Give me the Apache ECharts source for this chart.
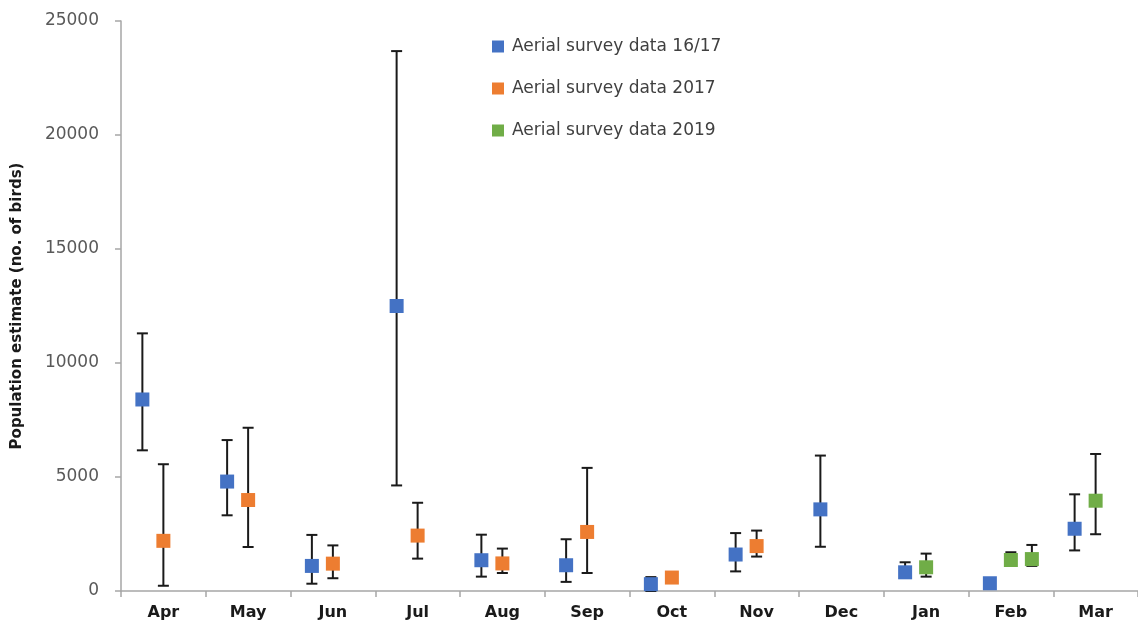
<!DOCTYPE html>
<html>
<head>
<meta charset="utf-8">
<script src="https://cdn.jsdelivr.net/npm/echarts@6/dist/echarts.min.js"></script>
<style>html,body{margin:0;padding:0;background:#fff}#c{width:1138px;height:626px}</style>
</head>
<body>
<div id="c"></div>
<script>
const categories = ['Apr','May','Jun','Jul','Aug','Sep','Oct','Nov','Dec','Jan','Feb','Mar'];
const yTicks = [0, 5000, 10000, 15000, 20000, 25000];

const s1617 = [8400, 4800, 1100, 12500, 1350, 1130, 300, 1600, 3580, 820, 340, 2730];
const s1617Low = [6170, 3320, 320, 4630, 630, 400, 0, 860, 1940, 600, null, 1780];
const s1617High = [11300, 6620, 2460, 23680, 2470, 2270, 610, 2540, 5940, 1260, null, 4240];

const s2017 = [2200, 3990, 1200, 2430, 1210, 2590, 590, 1970, null, null, null, null];
const s2017Low = [230, 1930, 560, 1420, 790, 790, null, 1510, null, null, null, null];
const s2017High = [5560, 7160, 2000, 3870, 1860, 5400, null, 2650, null, null, null, null];

const s2019 = [null, null, null, null, null, null, null, null, null, 1040, 1360, 3960];
const s2019Low = [null, null, null, null, null, null, null, null, null, 630, 1200, 2490];
const s2019High = [null, null, null, null, null, null, null, null, null, 1640, 1700, 6010];

// second 2019 survey in February
const s2019b = [null, null, null, null, null, null, null, null, null, null, 1400, null];
const s2019bLow = [null, null, null, null, null, null, null, null, null, null, 1100, null];
const s2019bHigh = [null, null, null, null, null, null, null, null, null, null, 2020, null];

const names = ['Aerial survey data 16/17', 'Aerial survey data 2017', 'Aerial survey data 2019'];
const colors = ['#4472C4', '#ED7D31', '#70AD47'];

function errData(low, high) {
  const out = [];
  categories.forEach((c, i) => {
    if (low[i] != null && high[i] != null) out.push([i, low[i], high[i]]);
  });
  return out;
}
function ptData(vals) {
  return vals.map((v, i) => v == null ? [i, null] : [i, v]);
}
function errSeries(low, high, dx) {
  return {
    type: 'custom',
    silent: true,
    z: 1,
    renderItem: function (params, api) {
      const x = api.value(0);
      const lo = api.coord([x, api.value(1)]);
      const hi = api.coord([x, api.value(2)]);
      const cx = lo[0] + dx, hw = 5.5;
      const st = { stroke: '#1a1a1a', lineWidth: 2 };
      return {
        type: 'group',
        children: [
          { type: 'line', shape: { x1: cx, y1: lo[1], x2: cx, y2: hi[1] }, style: st },
          { type: 'line', shape: { x1: cx - hw, y1: lo[1], x2: cx + hw, y2: lo[1] }, style: st },
          { type: 'line', shape: { x1: cx - hw, y1: hi[1], x2: cx + hw, y2: hi[1] }, style: st }
        ]
      };
    },
    encode: { x: 0, y: [1, 2] },
    data: errData(low, high)
  };
}
function ptSeries(name, vals, color, dx) {
  return {
    name: name,
    type: 'scatter',
    symbol: 'rect',
    symbolSize: 14,
    symbolOffset: [dx, 0],
    z: 3,
    itemStyle: { color: color, opacity: 1 },
    data: ptData(vals)
  };
}

const chart = echarts.init(document.getElementById('c'), null, { renderer: 'canvas' });
chart.setOption({
  animation: false,
  backgroundColor: '#fff',
  textStyle: { fontFamily: 'DejaVu Sans' },
  grid: { left: 121, right: -9, top: 21, bottom: 35, containLabel: false },
  legend: {
    orient: 'vertical',
    left: 487,
    top: 33,
    itemGap: 25,
    itemWidth: 12,
    itemHeight: 12,
    icon: 'rect',
    data: names,
    textStyle: { fontSize: 17, color: '#404040', fontFamily: 'DejaVu Sans', padding: [0, 0, 0, 3] }
  },
  xAxis: {
    type: 'category',
    data: categories,
    boundaryGap: true,
    axisLine: { lineStyle: { color: '#A6A6A6', width: 1.5 } },
    axisTick: { show: true, interval: 0, length: 6, lineStyle: { color: '#A6A6A6', width: 1.5 } },
    axisLabel: { interval: 0, fontSize: 16, fontWeight: 'bold', color: '#1a1a1a', margin: 14 }
  },
  yAxis: {
    type: 'value',
    min: yTicks[0],
    max: yTicks[yTicks.length - 1],
    interval: 5000,
    splitLine: { show: false },
    axisLine: { show: true, lineStyle: { color: '#A6A6A6', width: 1.5 } },
    axisTick: { show: true, length: 6, inside: false, lineStyle: { color: '#A6A6A6', width: 1.5 } },
    axisLabel: { fontSize: 17, color: '#595959', margin: 22, formatter: function (v) { return String(v); } },
    name: 'Population estimate (no. of birds)',
    nameLocation: 'middle',
    nameGap: 96,
    nameRotate: 90,
    nameTextStyle: { fontSize: 15, fontWeight: 'bold', color: '#1a1a1a' }
  },
  series: [
    errSeries(s1617Low, s1617High, -21),
    errSeries(s2017Low, s2017High, 0),
    errSeries(s2019Low, s2019High, 0),
    errSeries(s2019bLow, s2019bHigh, 21),
    ptSeries(names[0], s1617, colors[0], -21),
    ptSeries(names[1], s2017, colors[1], 0),
    ptSeries(names[2], s2019, colors[2], 0),
    ptSeries(names[2] + ' ', s2019b, colors[2], 21)
  ]
});
</script>
</body>
</html>
